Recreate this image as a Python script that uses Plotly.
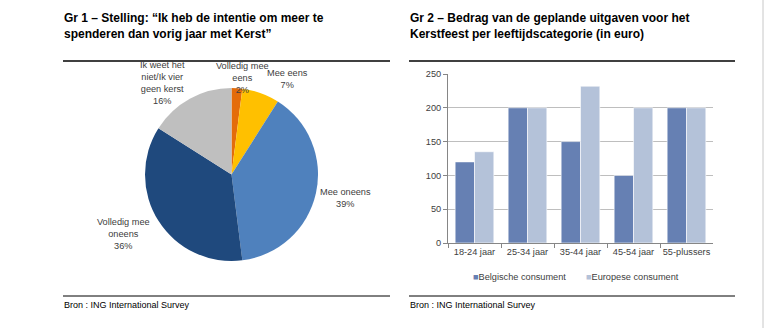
import plotly.graph_objects as go

W, H = 768, 328

# ---- data ----
pie_labels = ["Volledig mee eens", "Mee eens", "Mee oneens", "Volledig mee oneens",
              "Ik weet het niet/Ik vier geen kerst"]
pie_label_lines = ["Volledig mee<br>eens", "Mee eens", "Mee oneens", "Volledig mee<br>oneens",
                   "Ik weet het<br>niet/Ik vier<br>geen kerst"]
pie_values = [2, 7, 39, 36, 16]
pie_colors = ["#E46C0A", "#FFC000", "#4F81BD", "#1F497D", "#BFBFBF"]

categories = ["18-24 jaar", "25-34 jaar", "35-44 jaar", "45-54 jaar", "55-plussers"]
belgische = [120, 200, 150, 100, 200]
europese = [135, 200, 232, 200, 200]
series_names = ["Belgische consument", "Europese consument"]
bar_colors = ["#6680B3", "#B4C2D9"]
y_ticks = [0, 50, 100, 150, 200, 250]

title1 = "Gr 1 – Stelling: “Ik heb de intentie om meer te<br>spenderen dan vorig jaar met Kerst”"
title2 = "Gr 2 – Bedrag van de geplande uitgaven voor het<br>Kerstfeest per leeftijdscategorie (in euro)"
source = "Bron : ING International Survey"

FONT = "Liberation Sans, Arial, sans-serif"
TXT = "#404040"


def px(x):
    return x / W


def py(y):
    return 1 - y / H


fig = go.Figure()

fig.add_trace(go.Pie(
    labels=pie_labels, values=pie_values, sort=False, direction="clockwise", rotation=0,
    marker=dict(colors=pie_colors, line=dict(width=0)),
    textinfo="none", hoverinfo="label+percent", showlegend=False,
    domain=dict(x=[px(145), px(318)], y=[py(261), py(88)]),
))

fig.add_trace(go.Bar(x=categories, y=belgische, name=series_names[0], showlegend=False,
                     marker=dict(color=bar_colors[0], line=dict(width=0.6, color="white"))))
fig.add_trace(go.Bar(x=categories, y=europese, name=series_names[1], showlegend=False,
                     marker=dict(color=bar_colors[1], line=dict(width=0.6, color="white"))))

# pie label annotations (positions only; text from data)
label_pos = [(242, 78), (287, 79), (345, 198), (123, 234), (162, 83)]
annotations = []
for lab, v, (x, y) in zip(pie_label_lines, pie_values, label_pos):
    annotations.append(dict(text=f"{lab}<br>{v}%", x=px(x), y=py(y), xref="paper", yref="paper",
                            showarrow=False, xanchor="center", yanchor="middle",
                            font=dict(family=FONT, size=9.2, color=TXT), align="center"))

# legend drawn as text entries, built from series names/colours
legend_x = [471, 584]
for name, col, x in zip(series_names, bar_colors, legend_x):
    annotations.append(dict(text=f"<span style='color:{col}'>■</span>{name}", x=px(x), y=py(277),
                            xref="paper", yref="paper", showarrow=False, xanchor="left",
                            yanchor="middle", font=dict(family=FONT, size=9.2, color=TXT)))

annotations += [
    dict(text=f"<b>{title1}</b>", x=px(62), y=py(9), xref="paper", yref="paper", showarrow=False,
         xanchor="left", yanchor="top", align="left", font=dict(family=FONT, size=12, color="black")),
    dict(text=f"<b>{title2}</b>", x=px(408), y=py(9), xref="paper", yref="paper", showarrow=False,
         xanchor="left", yanchor="top", align="left", font=dict(family=FONT, size=12, color="black")),
    dict(text=source, x=px(62), y=py(305), xref="paper", yref="paper", showarrow=False,
         xanchor="left", yanchor="middle", font=dict(family=FONT, size=9, color="black")),
    dict(text=source, x=px(408), y=py(305), xref="paper", yref="paper", showarrow=False,
         xanchor="left", yanchor="middle", font=dict(family=FONT, size=9, color="black")),
]

shapes = [
    dict(type="line", xref="paper", yref="paper", x0=px(63), x1=px(390), y0=py(61), y1=py(61),
         line=dict(color="black", width=1.3)),
    dict(type="line", xref="paper", yref="paper", x0=px(409), x1=px(735), y0=py(61), y1=py(61),
         line=dict(color="black", width=1.3)),
    dict(type="line", xref="paper", yref="paper", x0=px(63), x1=px(390), y0=py(296), y1=py(296),
         line=dict(color="black", width=1)),
    dict(type="line", xref="paper", yref="paper", x0=px(409), x1=px(735), y0=py(296), y1=py(296),
         line=dict(color="black", width=1)),
    dict(type="line", xref="paper", yref="paper", x0=px(763), x1=px(763), y0=0, y1=1,
         line=dict(color="#C8C8C8", width=1)),
]

fig.update_layout(
    width=W, height=H, margin=dict(l=0, r=0, t=0, b=0, autoexpand=False),
    paper_bgcolor="white", plot_bgcolor="white",
    barmode="group", bargap=0.27, bargroupgap=0, showlegend=False,
    font=dict(family=FONT, size=9.2, color=TXT),
    xaxis=dict(domain=[px(448), px(713)], anchor="y", showline=True, linecolor="#868686", linewidth=1,
               ticks="outside", tickson="boundaries", ticklen=4, tickcolor="#868686", tickangle=0,
               tickfont=dict(family=FONT, size=9.2, color=TXT), showgrid=False, fixedrange=True),
    yaxis=dict(domain=[py(243), py(74)], anchor="x", range=[0, 250], tickvals=y_ticks,
               showline=True, linecolor="#868686", linewidth=1, ticks="outside", ticklen=4,
               tickcolor="#868686", showgrid=True, gridcolor="#BEBEBE", gridwidth=1,
               zeroline=False, tickfont=dict(family=FONT, size=9.2, color=TXT), fixedrange=True),
    annotations=annotations, shapes=shapes,
)

fig.write_html("out.html")
